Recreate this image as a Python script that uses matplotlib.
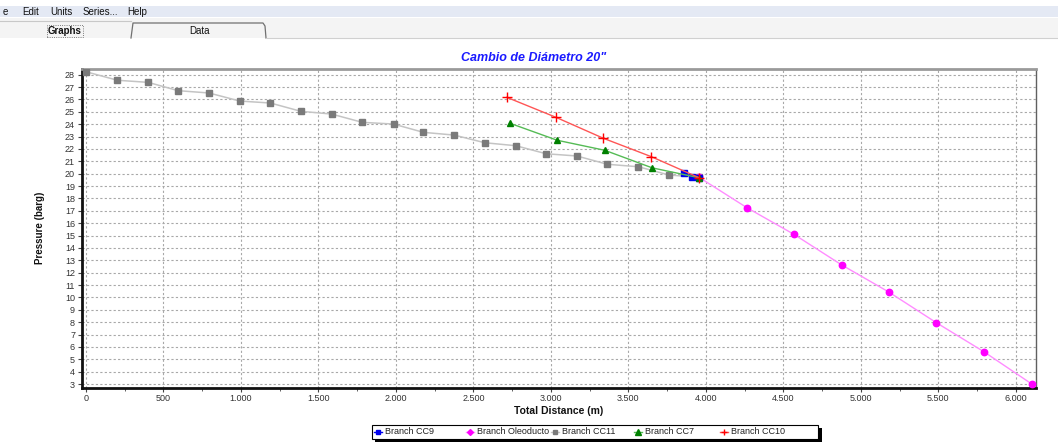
import matplotlib
matplotlib.use("Agg")
import matplotlib.pyplot as plt
from matplotlib.lines import Line2D
from matplotlib.patches import Rectangle
from matplotlib.ticker import MultipleLocator, FuncFormatter

plt.rcParams['font.family'] = ['Liberation Sans', 'DejaVu Sans']

# Pressure profiles along each branch (distance in m, pressure in barg)
cc11_x = [0, 204, 402, 595, 795, 993, 1191, 1387, 1585, 1783, 1985, 2178,
          2376, 2574, 2774, 2970, 3168, 3365, 3565, 3760, 3957]
cc11_y = [28.24, 27.55, 27.38, 26.71, 26.52, 25.87, 25.71, 25.04, 24.82, 24.15,
          24.01, 23.34, 23.12, 22.50, 22.26, 21.61, 21.43, 20.76, 20.56, 19.90, 19.70]

oleo_x = [3957, 4265, 4568, 4877, 5181, 5488, 5794, 6103]
oleo_y = [19.70, 17.25, 15.10, 12.62, 10.43, 7.95, 5.61, 3.00]

cc9_x = [3856, 3912, 3957]
cc9_y = [20.05, 19.76, 19.67]

cc7_x = [2737, 3041, 3348, 3654, 3957]
cc7_y = [24.07, 22.70, 21.89, 20.47, 19.67]

cc10_x = [2716, 3032, 3339, 3649, 3957]
cc10_y = [26.17, 24.56, 22.86, 21.37, 19.67]

series_names = ["Branch CC9", "Branch Oleoducto", "Branch CC11", "Branch CC7", "Branch CC10"]

W, H = 1058, 442
fig = plt.figure(figsize=(W / 100, H / 100), dpi=100)
fig.patch.set_facecolor("white")


def fx(px):
    return px / W


def fy(py):
    return 1 - py / H


# --- application chrome: menu bar and tabs ---
fig.patches.append(Rectangle((0, fy(17)), 1, (17 - 6) / H, transform=fig.transFigure,
                             facecolor="#e4e9f4", edgecolor="none", zorder=0))
fig.patches.append(Rectangle((0, fy(38)), 1, (38 - 18) / H, transform=fig.transFigure,
                             facecolor="#f4f4f4", edgecolor="none", zorder=0))
menu_items = [("e", 3), ("Edit", 22), ("Units", 50), ("Series...", 83), ("Help", 127)]
for txt, px in menu_items:
    fig.text(fx(px), fy(12), txt, fontsize=7, va="center", ha="left", color="#111111")

# Data tab outline
fig.add_artist(Line2D([fx(131), fx(133), fx(263), fx(265), fx(266)],
                      [fy(38), fy(23), fy(23), fy(26), fy(38)],
                      transform=fig.transFigure, color="#707070", lw=0.9))
fig.add_artist(Line2D([fx(0), fx(131)], [fy(21), fy(21)],
                      transform=fig.transFigure, color="#c8c8c8", lw=0.8))
fig.add_artist(Line2D([fx(266), fx(1058)], [fy(38), fy(38)],
                      transform=fig.transFigure, color="#d0d0d0", lw=0.8))
fig.text(fx(65), fy(31), "Graphs", fontsize=7, weight="bold", ha="center", va="center",
         color="#111111",
         bbox=dict(boxstyle="square,pad=0.1", facecolor="none", edgecolor="#555555",
                   linestyle=":", linewidth=0.6))
fig.text(fx(200), fy(31), "Data", fontsize=7, ha="center", va="center", color="#111111")

# --- chart ---
ax = fig.add_axes([fx(82), fy(387.5), fx(1036) - fx(82), (387.5 - 69) / H])
ax.set_xlim(-25, 6130)
ax.set_ylim(2.72, 28.46)

ax.plot(cc11_x, cc11_y, color="#c4c4c4", lw=1.1, marker="s", ms=5.0,
        mfc="#7a7a7a", mec="#7a7a7a", zorder=3)
ax.plot(oleo_x, oleo_y, color="#ff8cff", lw=1.0, marker="o", ms=4.6,
        mfc="#ff00ff", mec="#ff00ff", zorder=3)
ax.plot(cc9_x, cc9_y, color="#3030ff", lw=1.0, marker="s", ms=4.6,
        mfc="#0000ee", mec="#0000ee", zorder=4)
ax.plot(cc7_x, cc7_y, color="#55bb55", lw=1.0, marker="^", ms=5.0,
        mfc="#008000", mec="#008000", zorder=5)
ax.plot(cc10_x, cc10_y, color="#ff5555", lw=1.0, marker="+", ms=7,
        mew=1.0, mfc="#ff0000", mec="#ff0000", zorder=6)

ax.xaxis.set_major_locator(MultipleLocator(500))
ax.xaxis.set_minor_locator(MultipleLocator(250))
ax.yaxis.set_major_locator(MultipleLocator(1))
ax.xaxis.set_major_formatter(FuncFormatter(lambda v, p: f"{int(round(v)):,}".replace(",", ".")))

ax.grid(True, which="major", color="#a8a8a8", linestyle=(0, (2, 2)), linewidth=0.8)
ax.set_axisbelow(True)
ax.tick_params(axis="both", which="major", direction="out", length=3, width=0.8,
               labelsize=6.5, labelcolor="#333333", color="#444444", pad=2)
ax.tick_params(axis="x", which="minor", direction="out", length=2, width=0.6, color="#444444")

for side, col, lw in [("left", "#111111", 2.0), ("bottom", "#111111", 2.0),
                      ("top", "#9a9a9a", 2.0), ("right", "#606060", 1.0)]:
    ax.spines[side].set_color(col)
    ax.spines[side].set_linewidth(lw)

ax.set_xlabel("Total Distance (m)", fontsize=7.5, weight="bold", labelpad=2, color="#111111")
ax.set_ylabel("Pressure (barg)", fontsize=7, weight="bold", labelpad=14, color="#111111")

fig.text(fx(534), fy(58), "Cambio de Diámetro 20\"", fontsize=9, weight="bold",
         style="italic", color="#1a1aff", ha="center", va="center")

# legend strip along the bottom: one entry per series in a shadowed box
fig.patches.append(Rectangle((fx(375), fy(442)), fx(822) - fx(375), (442 - 428) / H,
                             transform=fig.transFigure, facecolor="black",
                             edgecolor="none", zorder=1))
fig.patches.append(Rectangle((fx(372), fy(439)), fx(818) - fx(372), (439 - 425) / H,
                             transform=fig.transFigure, facecolor="white",
                             edgecolor="black", linewidth=0.8, zorder=2))
legend_styles = [
    dict(color="#0000ee", marker="s", ms=3.5, mfc="#0000ee", mec="#0000ee"),
    dict(color="#ff8cff", marker="D", ms=3.0, mfc="#ff00ff", mec="#ff00ff"),
    dict(color="#c4c4c4", marker="s", ms=3.5, mfc="#7a7a7a", mec="#7a7a7a"),
    dict(color="#55bb55", marker="^", ms=3.8, mfc="#008000", mec="#008000"),
    dict(color="#ff5555", marker="+", ms=5, mfc="#ff0000", mec="#ff0000"),
]
legend_px = [378, 470, 555, 638, 724]
for name, st, xc in zip(series_names, legend_styles, legend_px):
    fig.add_artist(Line2D([fx(xc - 4), fx(xc), fx(xc + 4)], [fy(432)] * 3,
                          transform=fig.transFigure, lw=1.0, zorder=3,
                          markevery=[1], **st))
    fig.text(fx(xc + 7), fy(432), name, fontsize=6.5, ha="left", va="center",
             color="#222222", zorder=3)

fig.savefig("out.png", dpi=100)
